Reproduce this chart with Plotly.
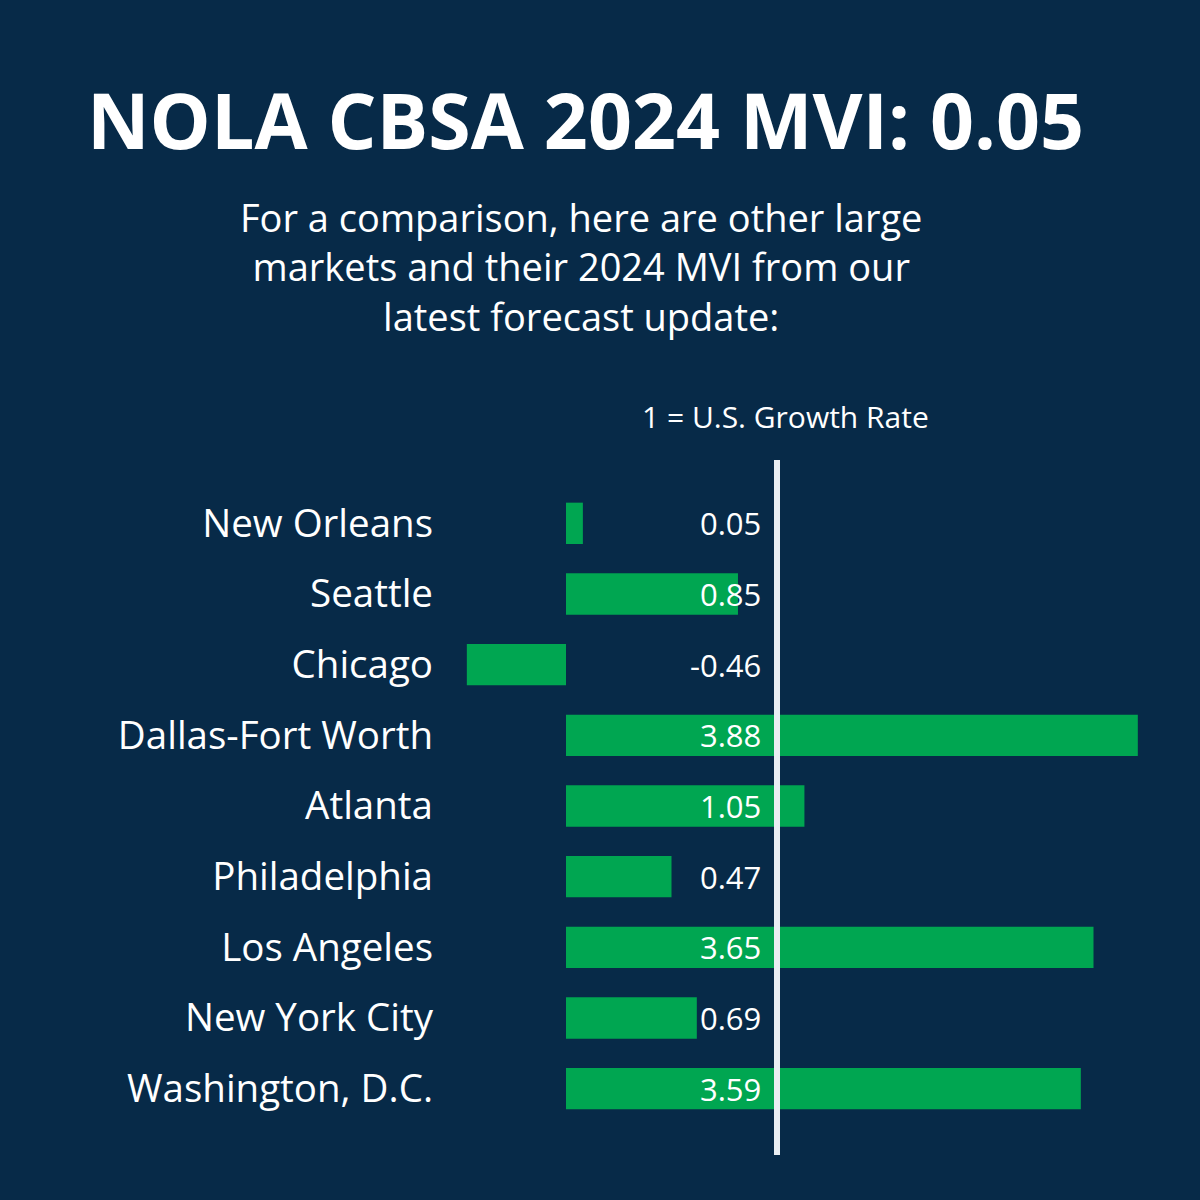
import plotly.graph_objects as go

# ---- data ----
markets = ["New Orleans", "Seattle", "Chicago", "Dallas-Fort Worth", "Atlanta",
           "Philadelphia", "Los Angeles", "New York City", "Washington, D.C."]
mvi_labels = ["0.05", "0.85", "-0.46", "3.88", "1.05", "0.47", "3.65", "0.69", "3.59"]
# bar lengths as drawn in the graphic (axis units where 1 = U.S. growth rate line)
bar_lengths = [0.08, 0.815, -0.47, 2.71, 1.13, 0.50, 2.50, 0.62, 2.44]
us_rate = 1

title_text = "NOLA CBSA 2024 MVI: 0.05"
subtitle_lines = ["For a comparison, here are other large",
                  "markets and their 2024 MVI from our",
                  "latest forecast update:"]
line_note = "1 = U.S. Growth Rate"

BG = "#072a48"
GREEN = "#00a651"
FONT = "Open Sans"

W, H = 1200, 1200
L, R, T, B = 440, 40, 488, 76
pw, ph = W - L - R, H - T - B

def px_x(px):
    return (px - L) / pw

def px_y(py):
    return (H - B - py) / ph

fig = go.Figure()
fig.add_trace(go.Bar(
    x=bar_lengths, y=markets, orientation="h",
    marker=dict(color=GREEN, line=dict(width=0)),
    hoverinfo="skip",
))

# vertical "U.S. growth rate" line
fig.add_shape(type="line", xref="x", yref="paper",
              x0=us_rate, x1=us_rate, y0=px_y(1155), y1=px_y(460),
              line=dict(color="#e9eef3", width=6), layer="above")

annotations = []
# value labels to the left of the line
for m, lab in zip(markets, mvi_labels):
    annotations.append(dict(x=us_rate, y=m, xref="x", yref="y", text=lab,
                            showarrow=False, xanchor="right", yanchor="middle",
                            xshift=-14, yshift=0,
                            font=dict(family=FONT, size=31, color="white")))

annotations.append(dict(x=px_x(585), y=px_y(119), xref="paper", yref="paper",
                        text="<b>" + title_text + "</b>", showarrow=False,
                        xanchor="center", yanchor="middle",
                        font=dict(family=FONT, size=77, color="white")))
annotations.append(dict(x=px_x(581), y=px_y(267), xref="paper", yref="paper",
                        text="<br>".join(subtitle_lines), showarrow=False,
                        xanchor="center", yanchor="middle", align="center",
                        font=dict(family=FONT, size=38, color="white")))
annotations.append(dict(x=px_x(785), y=px_y(416), xref="paper", yref="paper",
                        text=line_note, showarrow=False,
                        xanchor="center", yanchor="middle",
                        font=dict(family=FONT, size=30, color="white")))

fig.update_layout(
    width=W, height=H,
    margin=dict(l=L, r=R, t=T, b=B),
    paper_bgcolor=BG, plot_bgcolor=BG,
    showlegend=False,
    bargap=0.415,
    annotations=annotations,
    xaxis=dict(range=[(L - 566) / 211, (W - R - 566) / 211], visible=False, fixedrange=True),
    yaxis=dict(categoryorder="array", categoryarray=markets, autorange="reversed",
               showgrid=False, zeroline=False, showline=False,
               ticks="", ticklabelstandoff=6,
               tickfont=dict(family=FONT, size=38.5, color="white"), fixedrange=True),
)

fig.write_html("out.html")
